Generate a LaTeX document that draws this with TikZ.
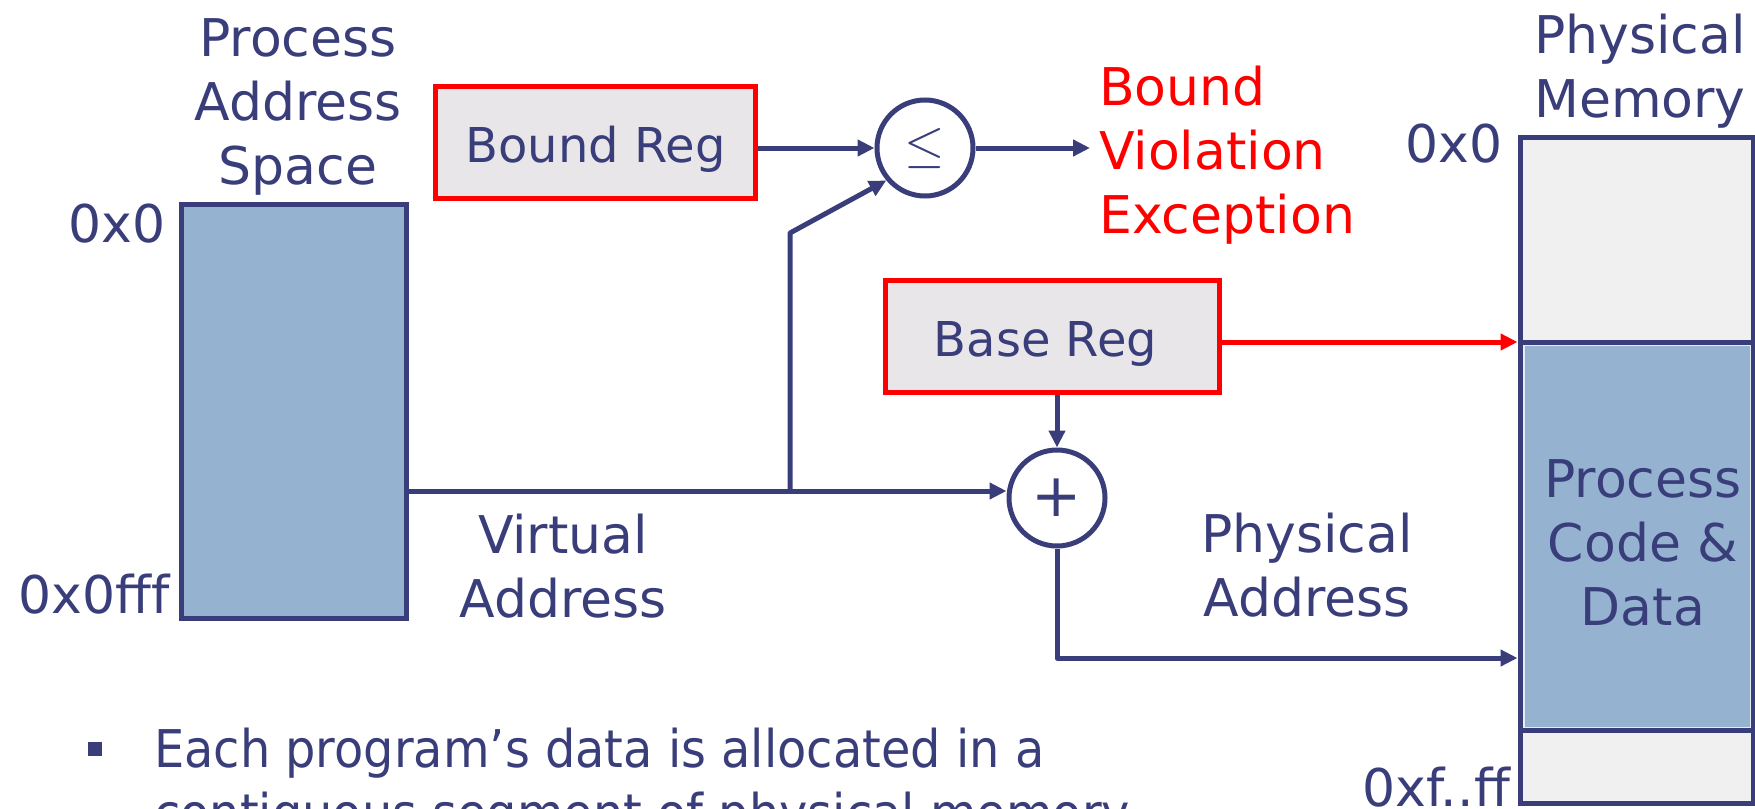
\documentclass[tikz,border=0pt]{standalone}
\usepackage{fontspec}
\setmainfont{DejaVu Sans}
\newfontfamily\narrowfont{DejaVu Sans}[FakeStretch=0.92]
\usetikzlibrary{arrows.meta}
\definecolor{navy}{HTML}{393D7A}
\definecolor{boxblue}{HTML}{95B3D1}
\definecolor{reggray}{HTML}{E8E6E8}
\definecolor{memgray}{HTML}{F0F0F0}
\definecolor{alarm}{HTML}{FF0000}
\begin{document}
\begin{tikzpicture}[x=1pt,y=-1pt,
  lbl/.style={text=navy, font=\fontsize{52}{64}\selectfont, inner sep=0pt, align=center},
  conn/.style={draw=navy, line width=5pt, line join=round},
  arr/.style={conn, -{Triangle[length=17pt,width=16pt]}},
  redarr/.style={draw=alarm, line width=5pt, -{Triangle[length=17pt,width=16pt]}},
  regbox/.style={draw=alarm, line width=5.5pt, fill=reggray, inner sep=0pt,
    text=navy, font=\fontsize{48}{60}\selectfont, text height=40pt, text depth=0pt},
  opcircle/.style={circle, draw=navy, line width=5pt, fill=white, minimum size=96pt, inner sep=0pt, text=navy},
  blockbox/.style={draw=navy, line width=5pt, inner sep=0pt}]
\useasboundingbox (0,0) rectangle (1755,808);
\clip (0,0) rectangle (1755,808);

% process address space
\node[blockbox, fill=boxblue, minimum width=225pt, minimum height=414pt] (vas) at (294,411.5) {};
\node[lbl, anchor=base] (pastitle) at (298,184) {Process\\Address\\Space};
\node[lbl, anchor=base east] (vstart) at (166,242) {0x0};
\node[lbl, anchor=base east] (vend) at (170,613) {0x0fff};

% registers
\node[regbox, minimum width=320pt, minimum height=112pt] (bound) at (595.5,142.5) {Bound Reg};
\node[regbox, minimum width=334pt, minimum height=112pt] (base) at (1052.5,336.5) {Base Reg\hspace*{14pt}};

% operators
\node[opcircle] (le) at (925,148) {\raisebox{-4pt}{\scalebox{5.2}{$\leq$}}};
\node[opcircle] (plus) at (1057,498) {\fontsize{60}{64}\selectfont +};

% exception label
\node[lbl, text=alarm, align=left, anchor=base west] (viol) at (1099,233) {Bound\\Violation\\Exception};

% physical memory
\node[blockbox, fill=memgray, minimum width=233pt, minimum height=666pt] (mem) at (1636.5,470) {};
\coordinate (segtop) at (1636.5,342);
\coordinate (segbot) at (1636.5,730);
\fill[boxblue, draw=white!75!boxblue, line width=1pt] (1524,345) rectangle (1750,727);
\draw[navy, line width=5pt] (mem.west |- segtop) -- (mem.east |- segtop);
\draw[navy, line width=5pt] (mem.west |- segbot) -- (mem.east |- segbot);
\node[lbl, anchor=base] (memtitle) at (1640,117) {Physical\\Memory};
\node[lbl, anchor=base east] (pstart) at (1503,162) {0x0};
\node[lbl, anchor=base east] (pend) at (1510,806) {0xf..ff};
\node[lbl, anchor=base] (memtext) at (1643,625) {Process\\Code \&\\Data};

% labels
\node[lbl, anchor=base] (vlabel) at (563,617) {Virtual\\Address};
\node[lbl, anchor=base] (plabel) at (1307,616) {Physical\\Address};

% connectors
\coordinate (va) at (790,491);
\coordinate (bend) at (790,233);
\coordinate (pa) at (1057,658);
\draw[arr] (bound.east |- le.center) -- (le.west);
\draw[arr] (le.east) -- ([xshift=-9pt]le.east -| viol.west);
\draw[arr] (vas.east |- va) -- (va -| plus.west);
\draw[arr] (va) -- (bend) -- (le.220);
\draw[arr] (plus |- base.south) -- (plus.north);
\draw[redarr] (base.east |- segtop) -- (segtop -| mem.west);
\draw[arr] (plus.south) -- (pa) -- (pa -| mem.west);

% bullet text
\node[fill=navy, minimum size=14pt, inner sep=0pt] (bul) at (95,749) {};
\node[lbl, font=\narrowfont\fontsize{52}{64}\selectfont, align=left, anchor=base west] (note) at (154,831)
  {Each program’s data is allocated in a\\contiguous segment of physical memory};
\end{tikzpicture}
\end{document}
